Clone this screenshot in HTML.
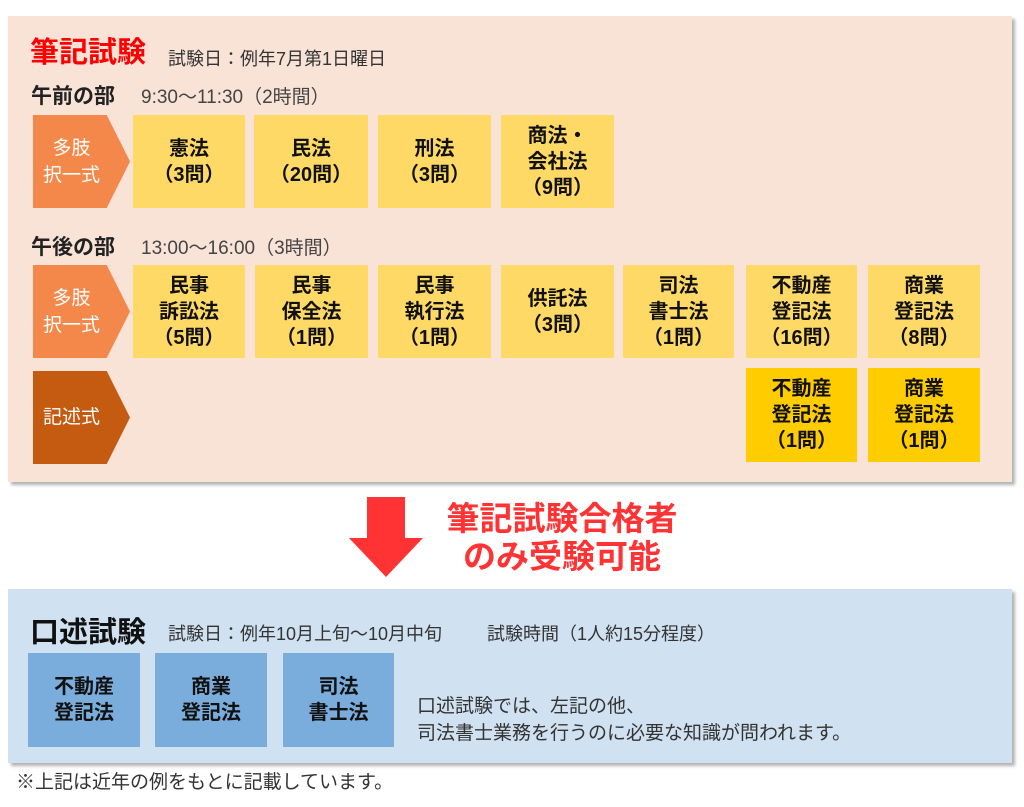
<!DOCTYPE html>
<html><head><meta charset="utf-8"><style>
*{margin:0;padding:0;box-sizing:border-box}
body{width:1024px;height:807px;background:#fff;position:relative;font-family:"Liberation Sans","Noto Sans CJK JP",sans-serif;color:#222;overflow:hidden}
.a{position:absolute}
.panel{position:absolute;left:8px;width:1004px;box-shadow:3px 3px 3px rgba(0,0,0,.3)}
.b{position:absolute;display:flex;align-items:center;justify-content:center;text-align:center;font-weight:bold;font-size:20px;line-height:26px;color:#111}
.y{background:#fed966}.d{background:#ffcc00}.bl{background:#7aaddc}
.t{position:absolute;white-space:nowrap}
.ar{position:absolute;left:33px;width:97px;color:#fff;font-size:19px;line-height:27px;display:flex;align-items:center;justify-content:center;padding-right:20px;text-align:center;clip-path:polygon(0 0,76% 0,100% 50%,76% 100%,0 100%)}
</style></head><body>
<div class="panel" style="top:16px;height:466px;background:#f9e3d7"></div>
<div class="t" style="left:30px;top:29px;font-size:29px;font-weight:bold;color:#ff0000">筆記試験</div>
<div class="t" style="left:168px;top:45px;font-size:18px;color:#333">試験日：例年7月第1日曜日</div>
<div class="t" style="left:31px;top:80px;font-size:21px;font-weight:bold">午前の部</div>
<div class="t" style="left:141px;top:82px;font-size:19px;color:#444">9:30～11:30（2時間）</div>
<div class="ar" style="top:115px;height:93px;background:#f4874a">多肢<br>択一式</div>
<div class="b y" style="left:133px;top:115px;width:112px;height:93px">憲法<br>（3問）</div>
<div class="b y" style="left:254px;top:115px;width:114px;height:93px">民法<br>（20問）</div>
<div class="b y" style="left:378px;top:115px;width:113px;height:93px">刑法<br>（3問）</div>
<div class="b y" style="left:501px;top:115px;width:113px;height:93px">商法・<br>会社法<br>（9問）</div>
<div class="t" style="left:31px;top:231px;font-size:21px;font-weight:bold">午後の部</div>
<div class="t" style="left:141px;top:233px;font-size:19px;color:#444">13:00～16:00（3時間）</div>
<div class="ar" style="top:265px;height:93px;background:#f4874a">多肢<br>択一式</div>
<div class="b y" style="left:133px;top:265px;width:112px;height:93px">民事<br>訴訟法<br>（5問）</div>
<div class="b y" style="left:255px;top:265px;width:113px;height:93px">民事<br>保全法<br>（1問）</div>
<div class="b y" style="left:378px;top:265px;width:113px;height:93px">民事<br>執行法<br>（1問）</div>
<div class="b y" style="left:501px;top:265px;width:113px;height:93px">供託法<br>（3問）</div>
<div class="b y" style="left:623px;top:265px;width:111px;height:93px">司法<br>書士法<br>（1問）</div>
<div class="b y" style="left:746px;top:265px;width:111px;height:93px">不動産<br>登記法<br>（16問）</div>
<div class="b y" style="left:868px;top:265px;width:112px;height:93px">商業<br>登記法<br>（8問）</div>
<div class="ar" style="top:371px;height:93px;background:#c55a11">記述式</div>
<div class="b d" style="left:746px;top:368px;width:111px;height:94px">不動産<br>登記法<br>（1問）</div>
<div class="b d" style="left:868px;top:368px;width:112px;height:94px">商業<br>登記法<br>（1問）</div>
<svg class="a" style="left:348px;top:497px" width="76" height="81"><polygon points="19,0 57,0 57,41 75,41 38,80 1,41 19,41" fill="#ff3333"/></svg>
<div class="t" style="left:430px;top:500px;width:264px;text-align:center;font-size:33px;line-height:38px;font-weight:bold;color:#ff3333">筆記試験合格者<br>のみ受験可能</div>
<div class="panel" style="top:589px;height:174px;background:#d0e1f1"></div>
<div class="t" style="left:30px;top:609px;font-size:29px;font-weight:bold;color:#111">口述試験</div>
<div class="t" style="left:168px;top:620px;font-size:18px;color:#333">試験日：例年10月上旬～10月中旬</div>
<div class="t" style="left:487px;top:620px;font-size:18px;color:#333">試験時間（1人約15分程度）</div>
<div class="b bl" style="left:28px;top:653px;width:112px;height:94px">不動産<br>登記法</div>
<div class="b bl" style="left:155px;top:653px;width:112px;height:94px">商業<br>登記法</div>
<div class="b bl" style="left:283px;top:653px;width:111px;height:94px">司法<br>書士法</div>
<div class="t" style="left:417px;top:693px;font-size:19px;line-height:27px;color:#333">口述試験では、左記の他、<br>司法書士業務を行うのに必要な知識が問われます。</div>
<div class="t" style="left:16px;top:767px;font-size:19px;color:#333">※上記は近年の例をもとに記載しています。</div>
</body></html>
